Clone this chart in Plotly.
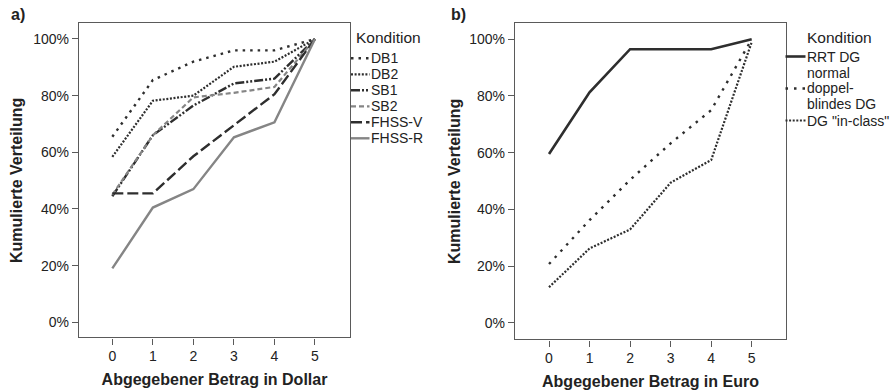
import plotly.graph_objects as go

x_vals = [0, 1, 2, 3, 4, 5]

# Panel a) cumulative distribution (fraction)
a_names = ["DB1", "DB2", "SB1", "SB2", "FHSS-V", "FHSS-R"]
a_DB1 = [0.655, 0.855, 0.92, 0.96, 0.96, 1.0]
a_DB2 = [0.584, 0.782, 0.80, 0.902, 0.92, 1.0]
a_SB1 = [0.445, 0.66, 0.765, 0.843, 0.86, 1.0]
a_SB2 = [0.45, 0.66, 0.794, 0.81, 0.831, 1.0]
a_FHSSV = [0.455, 0.455, 0.586, 0.696, 0.805, 1.0]
a_FHSSR = [0.19, 0.405, 0.47, 0.653, 0.706, 1.0]

# Panel b)
b_names = ["RRT DG", "normal doppel-blindes DG", "DG \"in-class\""]
b_legend_lines = [["RRT DG"], ["normal", "doppel-", "blindes DG"], ["DG \"in-class\""]]
b_RRT = [0.595, 0.813, 0.965, 0.965, 0.965, 1.0]
b_normal = [0.207, 0.362, 0.504, 0.633, 0.75, 1.0]
b_inclass = [0.125, 0.262, 0.329, 0.494, 0.574, 0.99]

y_ticks = [0, 0.2, 0.4, 0.6, 0.8, 1.0]
y_ticktext = ["0%", "20%", "40%", "60%", "80%", "100%"]

dark = "#2e2e2e"
gray = "#858585"

a_series = [a_DB1, a_DB2, a_SB1, a_SB2, a_FHSSV, a_FHSSR]
a_styles = [
    dict(color=dark, width=2.4, dash="2.5px,5px"),
    dict(color=dark, width=2.2, dash="2px,1.6px"),
    dict(color=dark, width=2.4, dash="9px,2px,2px,2px,2px,2px"),
    dict(color=gray, width=2.2, dash="5px,3px"),
    dict(color=dark, width=2.4, dash="11px,4px"),
    dict(color=gray, width=2.4),
]
b_series = [b_RRT, b_normal, b_inclass]
b_styles = [
    dict(color=dark, width=2.6),
    dict(color=dark, width=2.4, dash="2.5px,6px"),
    dict(color=dark, width=2.2, dash="2px,1.6px"),
]

W, H = 890.0, 390.0
def px(v):
    return v / W
def py(v):
    return 1 - v / H

fig = go.Figure()
for name, ys, st in zip(a_names, a_series, a_styles):
    fig.add_trace(go.Scatter(x=x_vals, y=ys, mode="lines", name=name, line=st,
                             xaxis="x", yaxis="y", showlegend=False))
for name, ys, st in zip(b_names, b_series, b_styles):
    fig.add_trace(go.Scatter(x=x_vals, y=ys, mode="lines", name=name, line=st,
                             xaxis="x2", yaxis="y2", showlegend=False))

font_family = "Liberation Sans, Arial, sans-serif"
axis_common = dict(showline=True, linecolor="#5a5a5a", linewidth=1.4, mirror=True,
                   ticks="outside", ticklen=6, tickcolor="#5a5a5a", tickwidth=1.4,
                   showgrid=False, zeroline=False, tickfont=dict(size=14, color="#222"))

shapes = []
annotations = []
leg_font = 14

# Legend a)
annotations.append(dict(text="Kondition", x=px(355), y=py(37.5), xref="paper", yref="paper",
                        xanchor="left", yanchor="middle", showarrow=False, borderpad=0,
                        font=dict(size=15.5)))
for i, (name, st) in enumerate(zip(a_names, a_styles)):
    yy = 58.3 + i * 16.0
    shapes.append(dict(type="line", xref="paper", yref="paper", x0=px(351), x1=px(369.5),
                       y0=py(yy), y1=py(yy), line=st))
    annotations.append(dict(text=name, x=px(370), y=py(yy), xref="paper", yref="paper",
                            xanchor="left", yanchor="middle", showarrow=False, borderpad=0,
                            font=dict(size=leg_font)))

# Legend b)
annotations.append(dict(text="Kondition", x=px(806), y=py(37.5), xref="paper", yref="paper",
                        xanchor="left", yanchor="middle", showarrow=False, borderpad=0,
                        font=dict(size=15.5)))
b_row_y = [[56.5], [72.5, 88.5, 104.5], [120.5]]
b_sym_y = [56.5, 88.5, 120.5]
for lines, ys_, sy, st in zip(b_legend_lines, b_row_y, b_sym_y, b_styles):
    shapes.append(dict(type="line", xref="paper", yref="paper", x0=px(785.5), x1=px(805.5),
                       y0=py(sy), y1=py(sy), line=st))
    for t, yy in zip(lines, ys_):
        annotations.append(dict(text=t, x=px(806), y=py(yy), xref="paper", yref="paper",
                                xanchor="left", yanchor="middle", showarrow=False,
                                borderpad=0, font=dict(size=leg_font)))

annotations += [
    dict(text="<b>a)</b>", x=px(9), y=py(15), xref="paper", yref="paper",
         xanchor="left", yanchor="middle", showarrow=False, font=dict(size=16)),
    dict(text="<b>b)</b>", x=px(449), y=py(15), xref="paper", yref="paper",
         xanchor="left", yanchor="middle", showarrow=False, font=dict(size=16)),
]

fig.update_layout(
    width=890, height=390,
    margin=dict(l=0, r=0, t=0, b=0),
    paper_bgcolor="white", plot_bgcolor="white",
    font=dict(family=font_family, color="#222"),
    xaxis=dict(domain=[px(79), px(350)], range=[-0.822, 5.864], tickvals=x_vals,
               title=dict(text="<b>Abgegebener Betrag in Dollar</b>", font=dict(size=16), standoff=10),
               **axis_common),
    yaxis=dict(domain=[py(337.3), py(23.3)], range=[-0.053, 1.0554], tickvals=y_ticks,
               ticktext=y_ticktext,
               title=dict(text="<b>Kumulierte Verteilung</b>", font=dict(size=16), standoff=6),
               anchor="x", **axis_common),
    xaxis2=dict(domain=[px(515), px(786)], range=[-0.839, 5.846], tickvals=x_vals, anchor="y2",
                title=dict(text="<b>Abgegebener Betrag in Euro</b>", font=dict(size=16), standoff=10),
                **axis_common),
    yaxis2=dict(domain=[py(339.3), py(23.3)], range=[-0.0586, 1.0565], tickvals=y_ticks,
                ticktext=y_ticktext,
                title=dict(text="<b>Kumulierte Verteilung</b>", font=dict(size=16), standoff=4),
                anchor="x2", **axis_common),
    shapes=shapes,
    annotations=annotations,
    showlegend=False,
)

fig.write_html("out.html")
